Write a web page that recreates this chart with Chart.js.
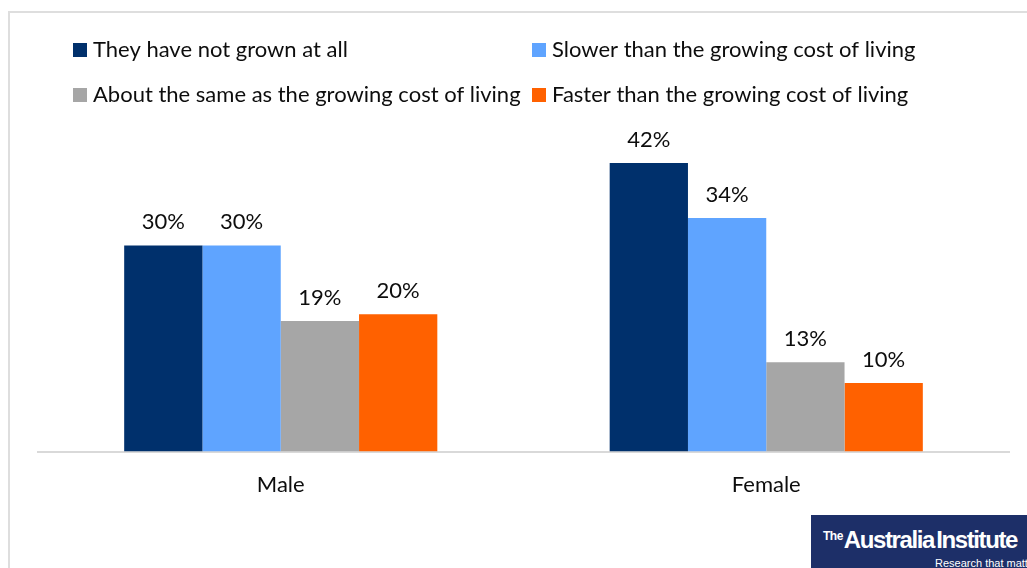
<!DOCTYPE html>
<html>
<head>
<meta charset="utf-8">
<script src="https://cdn.jsdelivr.net/npm/chart.js@4.4.1/dist/chart.umd.min.js"></script>
<style>
    html, body { margin: 0; padding: 0; background: #fff; }
    #wrap { position: relative; width: 1027px; height: 568px; overflow: hidden; }
    #frame { position: absolute; left: 8px; top: 11px; right: -4px; bottom: -4px;
             border-top: 2px solid #dedede; border-left: 2px solid #dedede; }
    #chart { position: absolute; left: 0; top: 0; }
    #logo { position: absolute; left: 811px; top: 515px; width: 216px; height: 53px;
            background: #1d2f68; color: #fff; overflow: hidden; }
    #logo .name { position: absolute; left: 12px; top: 11px; font-family: 'Liberation Sans', Arial, sans-serif;
                  font-weight: bold; font-size: 24px; letter-spacing: -1.4px; word-spacing: -3px; white-space: nowrap; }
    #logo .name sup { font-size: 12px; letter-spacing: -0.5px; vertical-align: 8px; margin-right: 1px; }
    #logo .tag { position: absolute; left: 124px; top: 42px; font-family: 'Liberation Sans', sans-serif;
                 font-size: 11px; white-space: nowrap; }
</style>
</head>
<body>
<div id="wrap">
    <div id="frame"></div>
    <canvas id="chart" width="1027" height="568"></canvas>
    <div id="logo"><span class="name"><sup>The</sup>Australia Institute</span><span class="tag">Research that matters</span></div>
</div>
<script>
const categories = ['Male', 'Female'];
const seriesNames = [
    'They have not grown at all',
    'Slower than the growing cost of living',
    'About the same as the growing cost of living',
    'Faster than the growing cost of living'
];
const notGrown = [30, 42];
const slower = [30, 34];
const same = [19, 13];
const faster = [20, 10];
const seriesColors = ['#00306c', '#5fa4ff', '#a6a6a6', '#ff6100'];

const FONT = 'Lato, Calibri, Carlito, sans-serif';

// legend laid out in two fixed columns, like the original
const columnLegend = {
    id: 'columnLegend',
    afterDraw(chart) {
        const ctx = chart.ctx;
        const colX = [73, 532];
        const rowY = [50, 95];
        ctx.save();
        ctx.font = '22px ' + FONT;
        ctx.textBaseline = 'middle';
        seriesNames.forEach((name, i) => {
            const x = colX[i % 2];
            const y = rowY[Math.floor(i / 2)];
            ctx.fillStyle = seriesColors[i];
            ctx.fillRect(x, y - 7, 14, 14);
            ctx.fillStyle = '#0d0d0d';
            ctx.fillText(name, x + 20, y);
        });
        ctx.restore();
    }
};

const valueLabels = {
    id: 'valueLabels',
    afterDatasetsDraw(chart) {
        const ctx = chart.ctx;
        ctx.save();
        ctx.font = '22px ' + FONT;
        ctx.fillStyle = '#0d0d0d';
        ctx.textAlign = 'center';
        ctx.textBaseline = 'alphabetic';
        chart.data.datasets.forEach((ds, i) => {
            chart.getDatasetMeta(i).data.forEach((bar, j) => {
                ctx.fillText(ds.data[j] + '%', bar.x, bar.y - 16);
            });
        });
        ctx.restore();
    }
};

new Chart(document.getElementById('chart').getContext('2d'), {
    type: 'bar',
    data: {
        labels: categories,
        datasets: [notGrown, slower, same, faster].map((values, i) => ({
            label: seriesNames[i],
            data: values,
            backgroundColor: seriesColors[i],
            borderWidth: 0,
            barPercentage: 1,
            categoryPercentage: 0.645
        }))
    },
    options: {
        responsive: false,
        animation: false,
        layout: { padding: { left: 38, right: 18, top: 108, bottom: 50 } },
        plugins: {
            legend: { display: false },
            tooltip: { enabled: false }
        },
        scales: {
            x: {
                grid: { display: false, drawTicks: false },
                border: { color: '#d9d9d9', width: 2 },
                ticks: { font: { family: FONT, size: 22 }, color: '#0d0d0d', padding: 20 }
            },
            y: {
                display: false,
                min: 0,
                max: 50
            }
        }
    },
    plugins: [columnLegend, valueLabels]
});
</script>
</body>
</html>
